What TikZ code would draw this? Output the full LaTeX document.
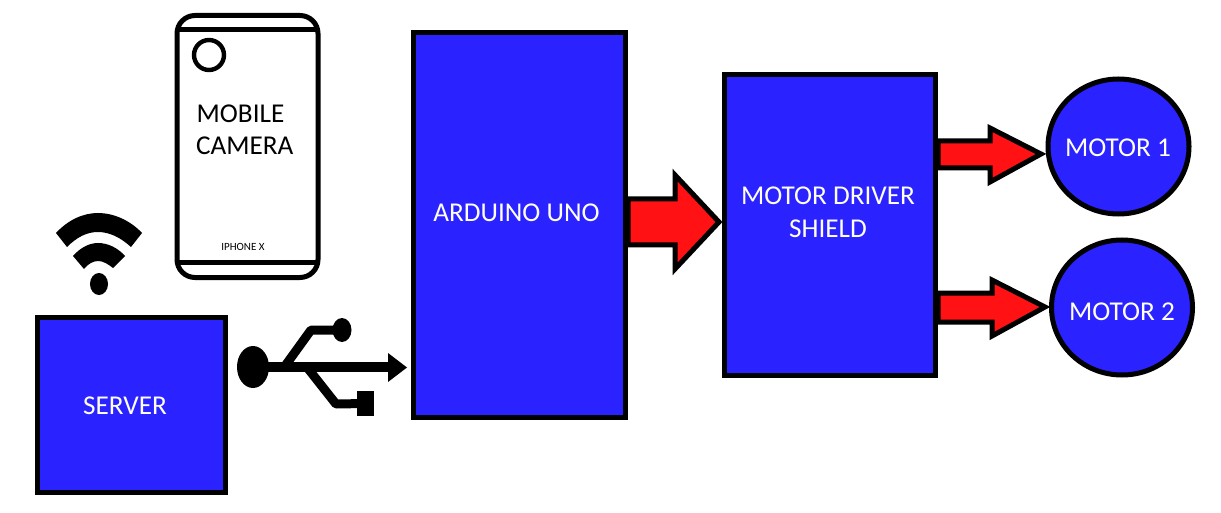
\documentclass[tikz,border=0pt]{standalone}
\usepackage{fontspec}
\setmainfont{Carlito}
\usetikzlibrary{shapes.geometric}
\definecolor{blockblue}{HTML}{2A22FF}
\definecolor{arrowred}{HTML}{FF1114}
\tikzset{
  blockbox/.style={draw=black,line width=5pt,fill=blockblue,rectangle,inner sep=0pt,outer sep=0pt},
  motorbox/.style={draw=black,line width=5pt,fill=blockblue,ellipse,inner sep=0pt,outer sep=0pt},
  bluetext/.style={text=white,font=\fontsize{27.2}{33}\selectfont,inner sep=0pt,anchor=center},
  darktext/.style={text=black,font=\fontsize{27.2}{33}\selectfont,inner sep=0pt,anchor=west},
  bigarrow/.style={draw=black,line width=5pt,fill=arrowred,miter limit=10},
  phoneline/.style={draw=black,line width=5pt},
  iconshape/.style={fill=black,draw=none},
  iconline/.style={draw=black,line width=9pt,line join=round}
}
\begin{document}
\begin{tikzpicture}[x=1pt,y=-1pt]
\useasboundingbox (0,0) rectangle (1221,513);
% phone
\draw[phoneline,rounded corners=18pt] (177,15.5) rectangle (318,277.5);
\draw[phoneline] (177,30) -- (318,30);
\draw[phoneline] (177,262.5) -- (318,262.5);
\node[draw=black,line width=4.4pt,circle,minimum size=30pt,inner sep=0pt] (lens) at (209,55) {};
\node[darktext] (mobile) at (196.5,113.5) {MOBILE};
\node[darktext] (camera) at (196,146) {CAMERA};
\node[text=black,font=\fontsize{11}{12}\selectfont,inner sep=0pt] (iphone) at (243,247) {IPHONE X};
% wifi
\fill[iconshape] (56,233) .. controls (68,220) and (83,213) .. (98,213) .. controls (113,213) and (130,220) .. (142,233) -- (131,247) .. controls (120,237) and (109,232) .. (98,232) .. controls (87,232) and (77,237) .. (67,247) -- cycle;
\fill[iconshape] (73,256) .. controls (80,248) and (89,243) .. (98,243) .. controls (108,243) and (118,248) .. (125,256) -- (113,268) .. controls (108,264) and (103,261) .. (98,261) .. controls (93,261) and (88,264) .. (84,269) -- cycle;
\node[iconshape,ellipse,minimum width=18pt,minimum height=22pt,inner sep=0pt] (wifidot) at (99,284) {};
% server
\node[blockbox,minimum width=188pt,minimum height=175pt] (server) at (131.5,405) {};
\node[bluetext] (servertext) at (125,405.5) {SERVER};
% usb
\node[iconshape,ellipse,minimum width=32pt,minimum height=42pt,inner sep=0pt] (usbplug) at (253,367) {};
\node[iconshape,ellipse,minimum width=19pt,minimum height=24pt,inner sep=0pt] (usbround) at (342,330) {};
\node[iconshape,rectangle,minimum width=17pt,minimum height=25pt,inner sep=0pt] (usbsquare) at (365.5,403.5) {};
\coordinate (usbhead) at (388,367);
\draw[draw=black,line width=9.5pt] (usbplug.center) -- (usbhead);
\fill[iconshape] (388,353) -- (407,367.5) -- (388,382) -- cycle;
\draw[iconline] (285,366) -- (311,330) -- (usbround.center);
\draw[iconline] (306,366) -- (336,404) -- (usbsquare.center);
% blocks
\node[blockbox,minimum width=212pt,minimum height=384pt] (arduino) at (519.5,225) {};
\node[bluetext] (arduinotext) at (516.5,213) {ARDUINO UNO};
\node[blockbox,minimum width=211pt,minimum height=301pt] (driver) at (830,225) {};
\node[bluetext,align=center] (drivertext) at (828,212.5) {MOTOR DRIVER\\SHIELD};
\node[motorbox,minimum width=141pt,minimum height=135pt] (motorone) at (1118.5,146.5) {};
\node[bluetext] (motoronetext) at (1118,148) {MOTOR 1};
\node[motorbox,minimum width=141pt,minimum height=135pt] (motortwo) at (1122,307.5) {};
\node[bluetext] (motortwotext) at (1122,312) {MOTOR 2};
% arrows
\draw[bigarrow] (628,199) -- (675,199) -- (675,175) -- (719,222) -- (675,269) -- (675,245) -- (628,245) -- cycle;
\draw[bigarrow] (938,141) -- (990,141) -- (990,128) -- (1041,154) -- (990,182) -- (990,168) -- (938,168) -- cycle;
\draw[bigarrow] (938,293) -- (992,293) -- (992,280) -- (1045,307) -- (992,336) -- (992,322) -- (938,322) -- cycle;
\end{tikzpicture}
\end{document}
